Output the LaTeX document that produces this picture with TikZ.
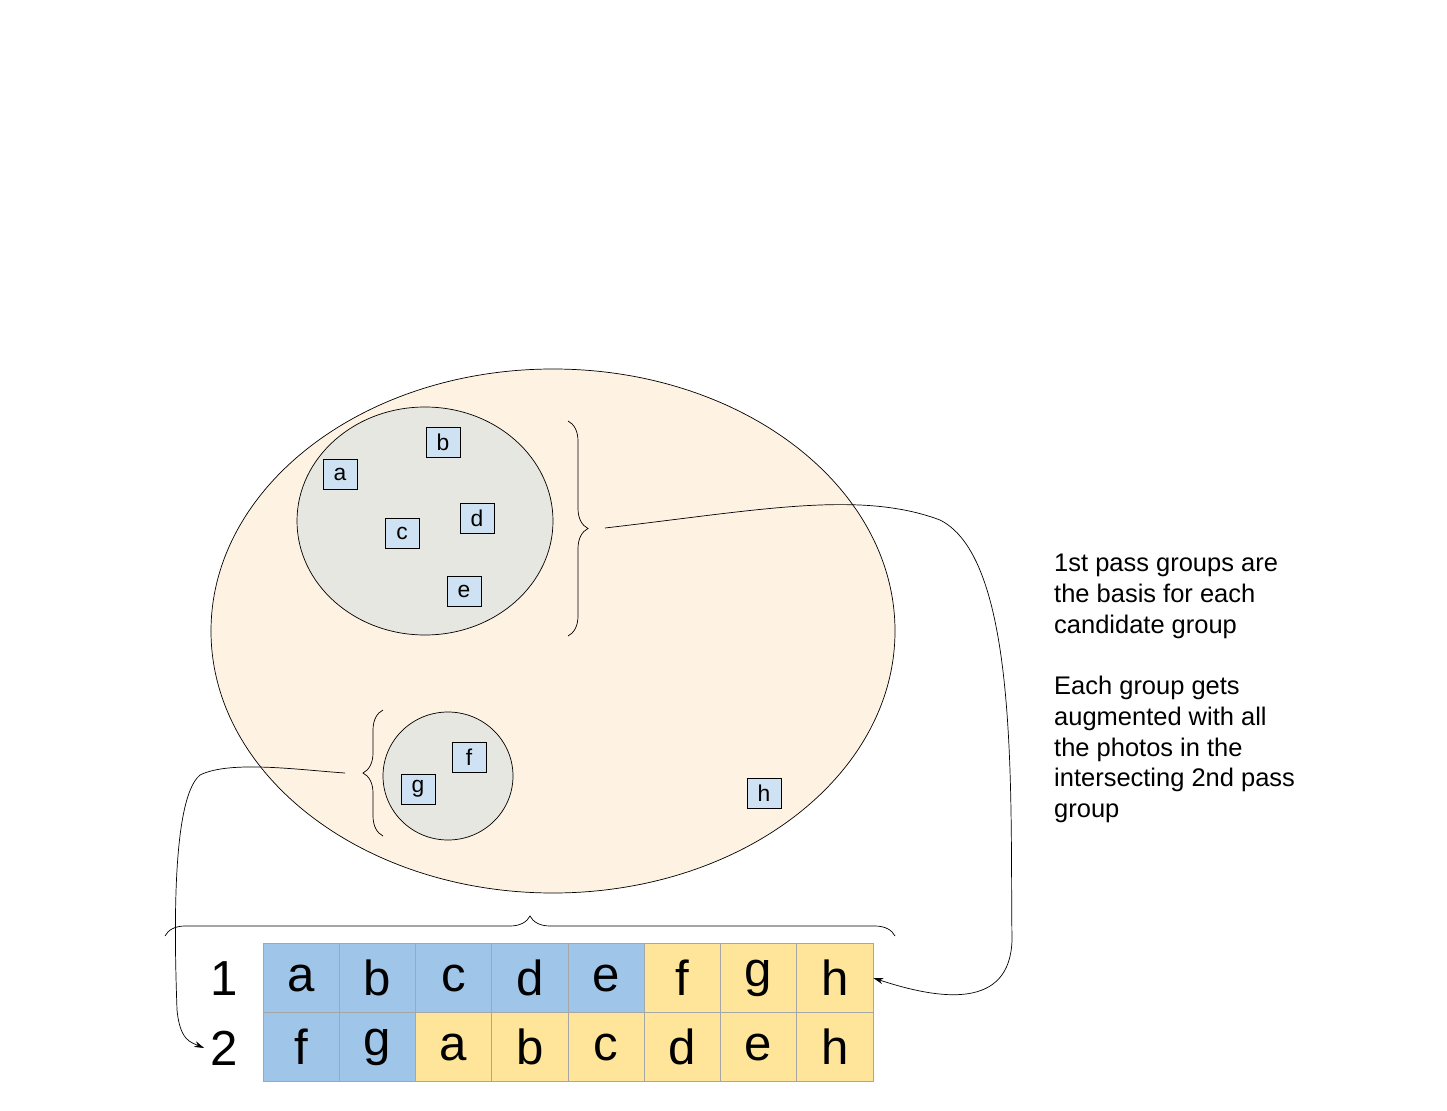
\documentclass[tikz,border=0pt]{standalone}
\usepackage{fontspec}
\setmainfont{Liberation Sans}
\usetikzlibrary{decorations.pathreplacing,arrows.meta}
\definecolor{blob}{HTML}{FEF2E2}
\definecolor{grp}{HTML}{E6E7E1}
\definecolor{item}{HTML}{CFE2F3}
\definecolor{cblue}{HTML}{9FC5E8}
\definecolor{cyell}{HTML}{FFE599}
\tikzset{
  photo/.style={draw, fill=item, minimum width=0.68cm, minimum height=0.6cm, inner sep=0pt, font=\fontsize{13}{13}\selectfont},
  cell/.style={draw=gray!70, minimum width=1.525cm, minimum height=1.39cm, inner sep=0pt, font=\fontsize{28}{28}\selectfont},
  brc/.style={decorate, decoration={brace, amplitude=0.4cm}},
  link/.style={-{Stealth[length=0.2cm,width=0.12cm]}}
}
\begin{document}
\begin{tikzpicture}[x=0.02cm, y=-0.02cm]
    \useasboundingbox (0,0) rectangle (1447,1111);

    \draw[fill=blob] (553,631) ellipse [x radius=342, y radius=262];
    \draw[fill=grp] (425,521) ellipse [x radius=128, y radius=114];
    \draw[fill=grp] (448,776) ellipse [x radius=65, y radius=64];

    % photos
    \node[photo] (a) at (340,474) {a};
    \node[photo] (b) at (443,442) {b};
    \node[photo] (c) at (402,533) {c};
    \node[photo] (d) at (477,518) {d};
    \node[photo] (e) at (464,591) {e};
    \node[photo] (f) at (469,757) {f};
    \node[photo] (g) at (418,789) {g};
    \node[photo] (h) at (764,793) {h};

    % braces
    \draw[brc] (568,421) -- (568,636);
    \coordinate (tipA) at (605,528);
    \draw[brc] (383,836) -- (383,710);
    \coordinate (tipB) at (345,773);
    \draw[brc] (165,936) -- (895,936);

    % table
    \foreach \t [count=\i] in {a,b,c,d,e,f,g,h} {
        \pgfmathsetmacro{\cx}{263+76.25*(\i-0.5)}
        \ifnum\i<6 \def\col{cblue}\else\def\col{cyell}\fi
        \node[cell, fill=\col] (r1\i) at (\cx,978) {\t};
    }
    \foreach \t [count=\i] in {f,g,a,b,c,d,e,h} {
        \pgfmathsetmacro{\cx}{263+76.25*(\i-0.5)}
        \ifnum\i<3 \def\col{cblue}\else\def\col{cyell}\fi
        \node[cell, fill=\col] (r2\i) at (\cx,1047) {\t};
    }
    \node[font=\fontsize{28}{28}\selectfont] (one) at (224,979) {1};
    \node[font=\fontsize{28}{28}\selectfont] (two) at (224,1048) {2};

    \draw[link] (tipA) .. controls (760,510) and (860,490) .. (940,520)
        .. controls (1020,560) and (1010,800) .. (1012,940)
        .. controls (1010,1010) and (940,1000) .. (r18.east);
    \draw[link] (tipB) .. controls (300,770) and (230,760) .. (200,775)
        .. controls (170,800) and (175,950) .. (177,1010)
        .. controls (180,1040) and (190,1042) .. (two.west);

    \node[anchor=north west, align=left, font=\fontsize{14.5}{17.5}\selectfont] (note) at (1048,548)
        {1st pass groups are\\the basis for each\\candidate group\\[17.5pt]Each group gets\\augmented with all\\the photos in the\\intersecting 2nd pass\\group};
\end{tikzpicture}
\end{document}
